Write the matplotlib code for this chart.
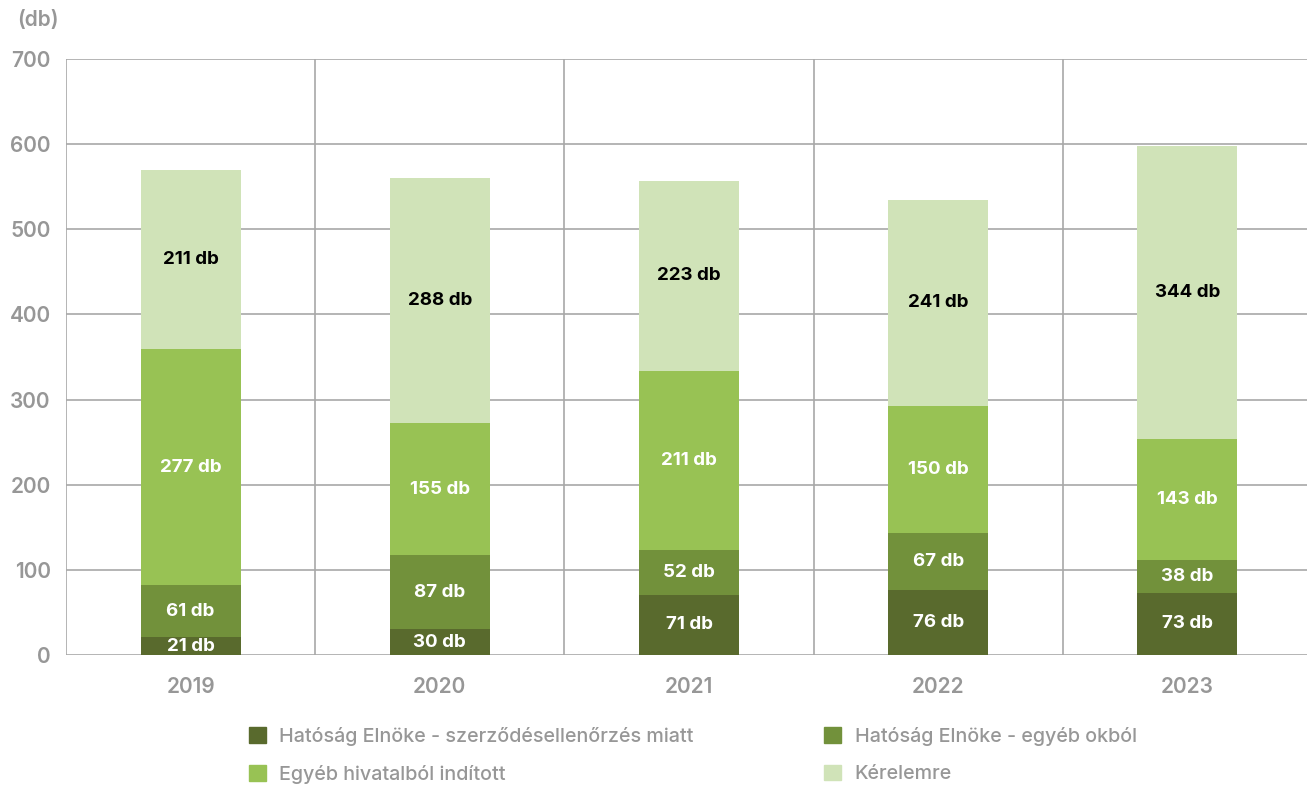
import numpy as np
import matplotlib.pyplot as plt
from matplotlib.patches import Patch

plt.rcParams['font.family'] = ['Inter', 'DejaVu Sans']

years = ['2019', '2020', '2021', '2022', '2023']
elnok_szerz = [21, 30, 71, 76, 73]
elnok_egyeb = [61, 87, 52, 67, 38]
hivatalbol = [277, 155, 211, 150, 143]
kerelemre = [211, 288, 223, 241, 344]

series = [elnok_szerz, elnok_egyeb, hivatalbol, kerelemre]
labels = ['Hatóság Elnöke - szerződésellenőrzés miatt',
          'Hatóság Elnöke - egyéb okból',
          'Egyéb hivatalból indított',
          'Kérelemre']
colors = ['#596a2d', '#72913b', '#98c254', '#d0e3b8']
text_colors = ['white', 'white', 'white', 'black']
gray = '#979797'

fig = plt.figure(figsize=(13.07, 7.85), dpi=100)
ax = fig.add_axes([66/1307, 1-655/785, 1246/1307, 596/785])

x = np.arange(len(years))
bottom = np.zeros(len(years))
for vals, col, tc in zip(series, colors, text_colors):
    vals = np.array(vals)
    ax.bar(x, vals, bottom=bottom, width=0.401, color=col, zorder=3)
    for xi, b, v in zip(x, bottom, vals):
        ax.text(xi, b + v/2, f'{v} db', ha='center', va='center',
                color=tc, fontsize=13.5, fontweight='bold', zorder=4)
    bottom += vals

ax.set_xlim(-0.5, 4.5)
ax.set_ylim(0, 700)
ax.set_yticks(range(0, 701, 100))
ax.set_xticks(x)
ax.set_xticklabels(years)
for xs in np.arange(-0.5, 4.6, 1):
    ax.axvline(xs, color='#a8a8a8', lw=1.2, zorder=1)
ax.grid(axis='y', color='#a8a8a8', lw=1.2, zorder=1)
for s in ['top', 'right', 'left', 'bottom']:
    ax.spines[s].set_visible(False)
ax.tick_params(length=0, labelsize=15, labelcolor=gray)
ax.tick_params(axis='y', pad=11)
ax.tick_params(axis='x', pad=16)
for lbl in ax.get_xticklabels() + ax.get_yticklabels():
    lbl.set_fontweight('semibold')

fig.text(17/1307, 1-20/785, '(db)', fontsize=15, color=gray,
         ha='left', va='center', fontweight='semibold')

# legend fills column-wise, so reorder to get rows: [0, 1] / [2, 3]
order = [0, 2, 1, 3]
handles = [Patch(color=colors[i]) for i in order]
fig.legend(handles, [labels[i] for i in order], ncol=2, loc='upper left',
           bbox_to_anchor=(241/1307, 1-719/785), frameon=False,
           prop={'size': 14.2, 'weight': 'medium'}, labelcolor=gray,
           handlelength=0.85, handleheight=0.85, handletextpad=0.7,
           columnspacing=6.6, labelspacing=0.95, borderaxespad=0)

fig.savefig('out.png', dpi=100)
